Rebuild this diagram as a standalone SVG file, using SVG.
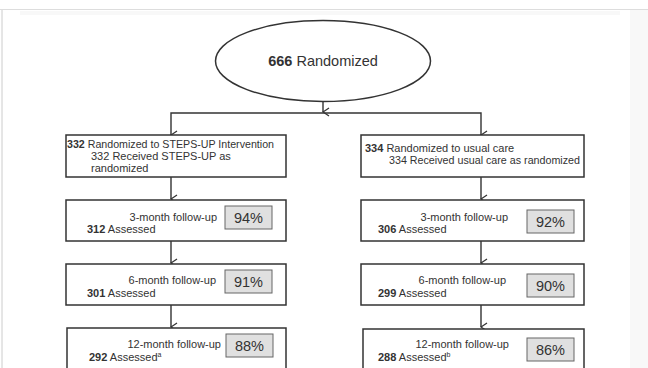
<svg xmlns="http://www.w3.org/2000/svg" width="648" height="368" viewBox="0 0 648 368">
<defs>
<marker id="arr" viewBox="0 0 10 10" refX="5" refY="9" markerWidth="10" markerHeight="10" markerUnits="userSpaceOnUse" orient="auto-start-reverse">
<polyline points="1,3 5,9 9,3" fill="none" stroke="#333" stroke-width="1.3"/>
</marker>
</defs>
<style>
.t{font-family:"Liberation Sans",Arial,sans-serif;font-size:11px;fill:#333}
.b{font-weight:bold}
.box{fill:#fff;stroke:#333;stroke-width:1.5}
.pct{fill:#e0e0e0;stroke:#666;stroke-width:1}
.pt{font-family:"Liberation Sans",Arial,sans-serif;font-size:14.5px;fill:#333;text-anchor:middle}
.c{fill:none;stroke:#333;stroke-width:1.4}
</style>
<rect x="0" y="0" width="648" height="368" fill="#fff"/>
<rect x="630" y="10" width="18" height="358" fill="#f8f8f8"/>
<line x1="0" y1="9.5" x2="648" y2="9.5" stroke="#ddd" stroke-width="1"/>
<line x1="2" y1="10" x2="2" y2="368" stroke="#ccc" stroke-width="1"/>
<rect x="20" y="11" width="600" height="4" fill="#f8f8f8"/>

<g id="connectors">
<line class="c" x1="323" y1="102" x2="323" y2="112" marker-end="url(#arr)"/>
<polyline class="c" points="171,135 171,113 481,113 481,135" marker-start="url(#arr)" marker-end="url(#arr)"/>
<line class="c" x1="171" y1="177" x2="171" y2="199" marker-end="url(#arr)"/>
<line class="c" x1="171" y1="241" x2="171" y2="263" marker-end="url(#arr)"/>
<line class="c" x1="171" y1="305" x2="171" y2="327" marker-end="url(#arr)"/>
<line class="c" x1="481" y1="177" x2="481" y2="199" marker-end="url(#arr)"/>
<line class="c" x1="481" y1="241" x2="481" y2="263" marker-end="url(#arr)"/>
<line class="c" x1="481" y1="305" x2="481" y2="327" marker-end="url(#arr)"/>
</g>

<g id="randomized">
<ellipse cx="323" cy="61" rx="107.5" ry="40.5" fill="#fff" stroke="#333" stroke-width="1.5"/>
<text x="323" y="66" text-anchor="middle" style="font-family:'Liberation Sans',Arial,sans-serif;font-size:14.5px;fill:#333"><tspan font-weight="bold">666</tspan> Randomized</text>
</g>

<g id="left-randomized">
<rect class="box" x="66" y="135" width="220" height="42"/>
<text class="t" x="67" y="148" textLength="207" lengthAdjust="spacingAndGlyphs"><tspan class="b">332</tspan> Randomized to STEPS-UP Intervention</text>
<text class="t" x="91" y="160">332 Received STEPS-UP as</text>
<text class="t" x="91" y="172">randomized</text>
</g>

<g id="right-randomized">
<rect class="box" x="361" y="135" width="223" height="42"/>
<text class="t" x="365" y="152"><tspan class="b">334</tspan> Randomized to usual care</text>
<text class="t" x="389" y="164" textLength="191" lengthAdjust="spacingAndGlyphs">334 Received usual care as randomized</text>
</g>

<g id="left-3m">
<rect class="box" x="66" y="200" width="220" height="41"/>
<text class="t" x="217" y="221" text-anchor="end">3-month follow-up</text>
<text class="t" x="87" y="233"><tspan class="b">312</tspan> Assessed</text>
<rect class="pct" x="225" y="206" width="47" height="23"/>
<text class="pt" x="248.5" y="222.5">94%</text>
</g>

<g id="left-6m">
<rect class="box" x="66" y="264" width="220" height="41"/>
<text class="t" x="216" y="284" text-anchor="end">6-month follow-up</text>
<text class="t" x="87" y="297"><tspan class="b">301</tspan> Assessed</text>
<rect class="pct" x="225" y="270" width="47" height="23"/>
<text class="pt" x="248.5" y="286.5">91%</text>
</g>

<g id="left-12m">
<rect class="box" x="67" y="328" width="219" height="45"/>
<text class="t" x="221" y="348" text-anchor="end">12-month follow-up</text>
<text class="t" x="89" y="361"><tspan class="b">292</tspan> Assessed<tspan font-size="7" dy="-4">a</tspan></text>
<rect class="pct" x="226" y="334" width="47" height="23"/>
<text class="pt" x="249.5" y="350.5">88%</text>
</g>

<g id="right-3m">
<rect class="box" x="361" y="200" width="223" height="41"/>
<text class="t" x="508" y="221" text-anchor="end">3-month follow-up</text>
<text class="t" x="378" y="233"><tspan class="b">306</tspan> Assessed</text>
<rect class="pct" x="527" y="210" width="47" height="23"/>
<text class="pt" x="550.5" y="226.5">92%</text>
</g>

<g id="right-6m">
<rect class="box" x="361" y="264" width="223" height="41"/>
<text class="t" x="506" y="284" text-anchor="end">6-month follow-up</text>
<text class="t" x="378" y="297"><tspan class="b">299</tspan> Assessed</text>
<rect class="pct" x="527" y="274" width="47" height="23"/>
<text class="pt" x="550.5" y="290.5">90%</text>
</g>

<g id="right-12m">
<rect class="box" x="363" y="329" width="221" height="45"/>
<text class="t" x="509" y="348" text-anchor="end">12-month follow-up</text>
<text class="t" x="378" y="361"><tspan class="b">288</tspan> Assessed<tspan font-size="7" dy="-4">b</tspan></text>
<rect class="pct" x="527" y="338" width="47" height="23"/>
<text class="pt" x="550.5" y="354.5">86%</text>
</g>
</svg>
